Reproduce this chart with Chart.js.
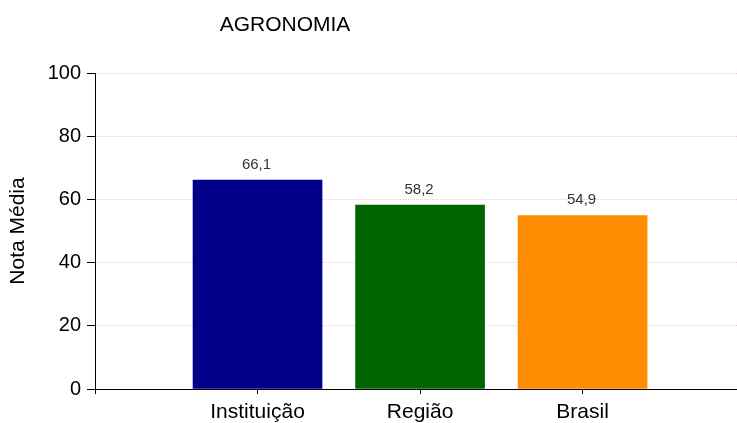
<!DOCTYPE html>
<html>
<head>
<meta charset="utf-8">
<script src="https://cdn.jsdelivr.net/npm/chart.js@4"></script>
<style>
  body { margin: 0; background: #fff; }
</style>
</head>
<body>
<canvas id="chart" width="737" height="423"></canvas>
<script>
const chartTitle = 'AGRONOMIA';
const categories = ['Instituição', 'Região', 'Brasil'];
const values = [66.1, 58.2, 54.9];
const barColors = ['#00008b', '#006400', '#ff8c00'];
const yTicks = [0, 20, 40, 60, 80, 100];

const FONT = '"Liberation Sans", Arial, sans-serif';

// bars sit at x = 1, 2, 3 on a linear axis
const points = values.map((v, i) => ({ x: i + 1, y: v }));

const decorations = {
    id: 'decorations',
    afterDatasetsDraw(chart) {
        const ctx = chart.ctx;
        const meta = chart.getDatasetMeta(0);
        ctx.save();
        ctx.font = '15px ' + FONT;
        ctx.fillStyle = '#333';
        ctx.textAlign = 'center';
        ctx.textBaseline = 'bottom';
        meta.data.forEach((bar, i) => {
            ctx.fillText(values[i].toFixed(1).replace('.', ','), bar.x - 1, bar.y - 8);
        });
        // title, placed left of centre like the original
        ctx.font = '21px ' + FONT;
        ctx.fillStyle = '#000';
        ctx.textBaseline = 'middle';
        ctx.fillText(chartTitle, 285, 25);
        ctx.restore();
    }
};

new Chart(document.getElementById('chart'), {
    type: 'bar',
    data: {
        datasets: [{
            data: points,
            backgroundColor: barColors,
            borderWidth: 0,
            barThickness: 129
        }]
    },
    options: {
        responsive: false,
        animation: false,
        layout: { padding: { top: 73, right: 0, bottom: 0, left: 0 } },
        plugins: {
            legend: { display: false },
            tooltip: { enabled: false }
        },
        scales: {
            x: {
                type: 'linear',
                min: 0,
                max: 3.95,
                offset: false,
                afterBuildTicks: s => {
                    s.ticks = [0, 1, 2, 3].map(v => ({ value: v }));
                },
                afterFit: s => { s.height = 34; },
                ticks: {
                    font: { family: FONT, size: 21 },
                    color: '#000',
                    padding: 6,
                    maxRotation: 0,
                    autoSkip: false,
                    callback: v => categories[v - 1] || ''
                },
                grid: {
                    offset: false,
                    drawOnChartArea: false,
                    tickLength: 5,
                    tickColor: '#000'
                },
                border: { color: '#000', width: 1 }
            },
            y: {
                min: 0,
                max: 100,
                afterBuildTicks: s => {
                    s.ticks = yTicks.map(v => ({ value: v }));
                },
                afterFit: s => { s.width = 95; },
                ticks: {
                    font: { family: FONT, size: 20 },
                    color: '#000',
                    padding: 6
                },
                grid: {
                    color: '#ffc4d4',
                    tickColor: '#000',
                    tickLength: 8,
                    tickBorderDash: []
                },
                border: { color: '#000', width: 1, dash: [1, 1] },
                title: {
                    display: true,
                    text: 'Nota Média',
                    color: '#000',
                    font: { family: FONT, size: 21 },
                    padding: { top: 6, bottom: 0 }
                }
            }
        }
    },
    plugins: [decorations]
});
</script>
</body>
</html>
